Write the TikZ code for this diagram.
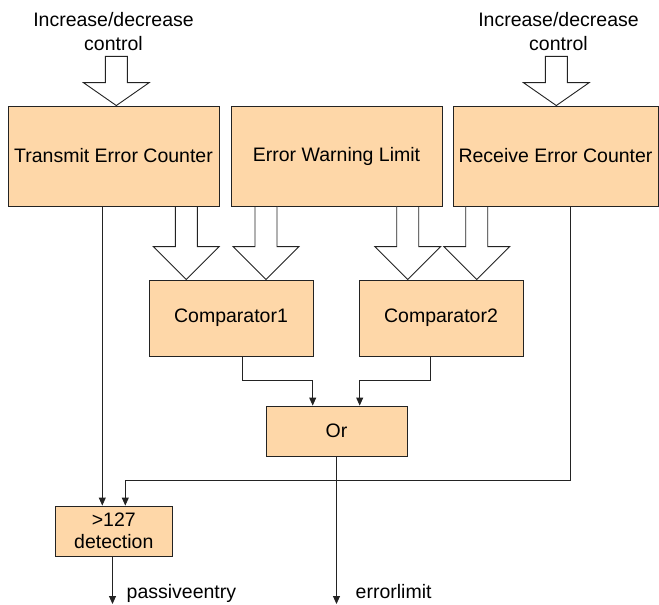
\documentclass[tikz,border=0pt]{standalone}
\usepackage{fontspec}
\setmainfont{Liberation Sans}
\usetikzlibrary{arrows.meta,calc}
\definecolor{boxfill}{RGB}{254,215,168}
\definecolor{edge}{RGB}{35,35,35}
\newcommand\blockarrow[3]{%
  \draw[barrow] let \p1=#1, \p2=#2 in
    ({\x2-11pt},\y1) -- ({\x2-11pt},{\y2+#3pt}) -- ({\x2-33pt},{\y2+#3pt}) --
    (\x2,\y2) -- ({\x2+33pt},{\y2+#3pt}) -- ({\x2+11pt},{\y2+#3pt}) --
    ({\x2+11pt},\y1) -- cycle;}
\begin{document}
\begin{tikzpicture}[x=1pt,y=-1pt,
  every node/.style={font=\fontsize{19.5}{23.5}\selectfont, inner sep=0pt},
  blk/.style={draw=edge, fill=boxfill, line width=0.9pt, rectangle},
  barrow/.style={draw=edge, fill=white, line width=0.9pt, line join=miter},
  conn/.style={draw=edge, line width=0.9pt, -{Triangle[length=8pt,width=7pt]}},
  lbl/.style={align=center}]
\useasboundingbox (0,0) rectangle (659,605);
% boxes
\node[blk, minimum width=211pt, minimum height=100pt] (tec) at (113.5,156) {Transmit Error Counter};
\node[blk, minimum width=211pt, minimum height=100pt] (ewl) at (336.5,156) {Error Warning Limit};
\node[blk, minimum width=205pt, minimum height=100pt] (rec) at (555.5,156) {Receive Error Counter};
\node[blk, minimum width=164pt, minimum height=76pt] (cmp1) at (231,318) {Comparator1};
\node[blk, minimum width=164pt, minimum height=76pt] (cmp2) at (441,318) {Comparator2};
\node[blk, minimum width=141pt, minimum height=50pt] (or) at (336.5,431) {Or};
\node[blk, minimum width=117pt, minimum height=50pt, lbl, font=\fontsize{19.5}{22}\selectfont] (det) at (113.8,531) {>127\\detection};
% top labels
\node[lbl, anchor=north] (inc1) at (113.5,12.3) {Increase/decrease\\control};
\node[lbl, anchor=north] (inc2) at (558.5,12.3) {Increase/decrease\\control};
% helper coordinates
\coordinate (t1) at (116.3,56.3);
\coordinate (t2) at (556.3,56.3);
\coordinate (a1) at (186.3,0);
\coordinate (a2) at (266,0);
\coordinate (a3) at (407.7,0);
\coordinate (a4) at (476.7,0);
% block arrows
\blockarrow{(t1)}{(tec.north -| t1)}{23}
\blockarrow{(t2)}{(rec.north -| t2)}{23}
\blockarrow{(tec.south -| a1)}{(cmp1.north -| a1)}{33}
\blockarrow{(ewl.south -| a2)}{(cmp1.north -| a2)}{33}
\blockarrow{(ewl.south -| a3)}{(cmp2.north -| a3)}{33}
\blockarrow{(rec.south -| a4)}{(cmp2.north -| a4)}{33}
% connectors
\coordinate (x1) at (102.3,0);
\coordinate (rj) at (570.3,480.7);
\coordinate (x2) at (125.3,0);
\coordinate (j1) at (242.7,380.3);
\coordinate (k1) at (312.7,0);
\coordinate (j2) at (430,380.3);
\coordinate (k2) at (359.7,0);
\coordinate (e1) at (336.5,604);
\coordinate (e2) at (112.5,604);
\draw[conn] (tec.south -| x1) -- (det.north -| x1);
\draw[conn] (rec.south -| rj) -- (rj) -| (det.north -| x2);
\draw[conn] (cmp1.south -| j1) -- (j1) -| (or.north -| k1);
\draw[conn] (cmp2.south -| j2) -- (j2) -| (or.north -| k2);
\draw[conn] (or.south) -- (e1);
\draw[conn] (det.south -| e2) -- (e2);
% output labels
\node[anchor=base west] (pe) at (126.5,598) {passiveentry};
\node[anchor=base west] (el) at (355.5,598) {errorlimit};
\end{tikzpicture}
\end{document}
